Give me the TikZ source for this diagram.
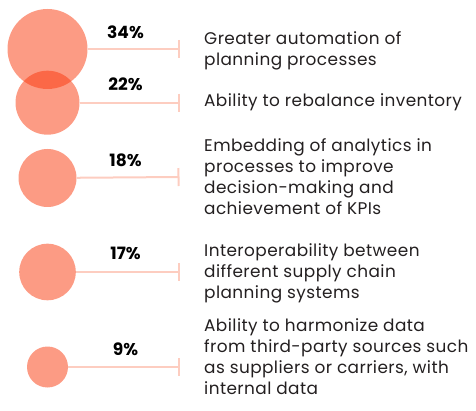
\documentclass[tikz,border=0pt]{standalone}
\usepackage{fontspec}
\setmainfont{Poppins}
\newfontfamily\reasonfont{Poppins}[LetterSpace=2.5]
\usetikzlibrary{arrows.meta}
\definecolor{bubblered}{RGB}{250,55,10}
\definecolor{stemred}{RGB}{253,205,192}
\definecolor{inkgray}{RGB}{35,31,32}
\begin{document}
\begin{tikzpicture}[x=1pt, y=-1pt,
    bubble/.style={circle, fill=bubblered, fill opacity=0.5, inner sep=0pt},
    stem/.style={draw=stemred, line width=2pt, -{Bar[width=18pt]}},
    pct/.style={anchor=base, font=\bfseries\fontsize{17}{20}\selectfont, text=black},
    reason/.style={anchor=base west, align=left, inner sep=0pt, text=inkgray,
        font=\reasonfont\fontsize{16.9}{20.8}\selectfont}]
    \useasboundingbox (0,0) rectangle (476,411);

    \node (auto) [bubble, minimum size=80pt] at (47.5,49) {};
    \node (rebal) [bubble, minimum size=64pt] at (47.5,102.7) {};
    \node (embed) [bubble, minimum size=58pt] at (47.5,178) {};
    \node (interop) [bubble, minimum size=56.6pt] at (47.5,272) {};
    \node (harmon) [bubble, minimum size=41pt] at (47.5,367) {};

    \coordinate (autoend) at (179.5,49);
    \coordinate (rebalend) at (179.5,102.7);
    \coordinate (embedend) at (179.5,177);
    \coordinate (interopend) at (179.5,272);
    \coordinate (harmonend) at (179.5,367);

    \draw[stem] (auto) -- (autoend);
    \draw[stem] (rebal) -- (rebalend);
    \draw[stem] (embed) -- (embedend);
    \draw[stem] (interop) -- (interopend);
    \draw[stem] (harmon) -- (harmonend);

    \node (autopct) [pct] at (125.5,38.3) {34\%};
    \node (rebalpct) [pct] at (125.5,91) {22\%};
    \node (embedpct) [pct] at (125.5,166.7) {18\%};
    \node (interoppct) [pct] at (125.5,260) {17\%};
    \node (harmonpct) [pct] at (125.5,355.7) {9\%};

    % base west sits on the last line
    \node (autotext) [reason] at (204,65.1) {Greater automation of\\planning processes};
    \node (rebaltext) [reason] at (204,106.7) {Ability to rebalance inventory};
    \node (embedtext) [reason] at (204,214.1) {Embedding of analytics in\\processes to improve\\decision-making and\\achievement of KPIs};
    \node (interoptext) [reason] at (204,298.3) {Interoperability between\\different supply chain\\planning systems};
    \node (harmontext) [reason] at (204,394.1) {Ability to harmonize data\\from third-party sources such\\as suppliers or carriers, with\\internal data};
\end{tikzpicture}
\end{document}
